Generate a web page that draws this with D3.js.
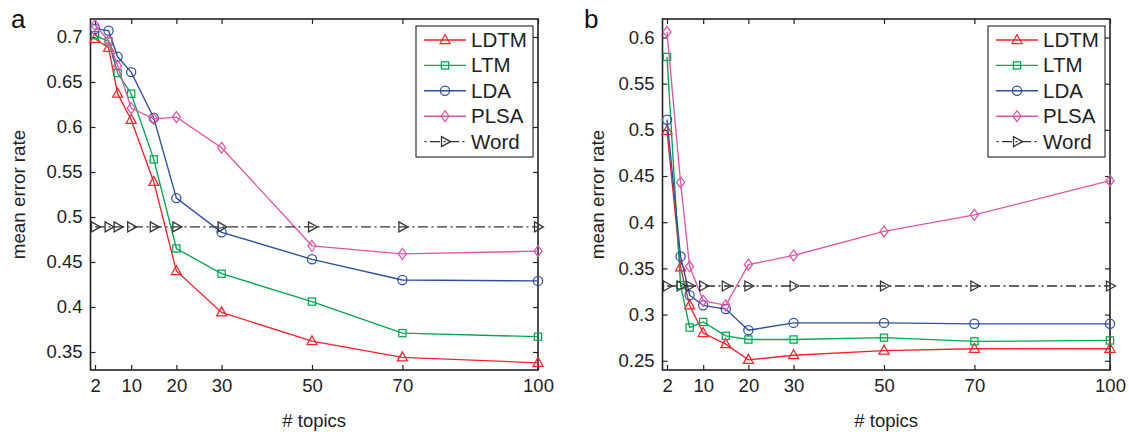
<!DOCTYPE html>
<html><head><meta charset="utf-8">
<script src="https://cdn.jsdelivr.net/npm/d3@7/dist/d3.min.js"></script>
<style>body{margin:0;background:#fff}svg{display:block;font-family:"Liberation Sans",Arial,sans-serif}</style>
</head><body><svg id="c" width="1129" height="432"></svg>
<script>
const topics = [2, 5, 7, 10, 15, 20, 30, 50, 70, 100];
const xTicks = [2, 10, 20, 30, 50, 70, 100];
const seriesNames = ["LDTM", "LTM", "LDA", "PLSA", "Word"];
// Panel a
const aLDTM = [0.698, 0.688, 0.637, 0.608, 0.539, 0.440, 0.394, 0.362, 0.344, 0.338];
const aLTM  = [0.702, 0.695, 0.660, 0.637, 0.564, 0.465, 0.437, 0.406, 0.371, 0.367];
const aLDA  = [0.709, 0.707, 0.678, 0.661, 0.610, 0.521, 0.483, 0.453, 0.430, 0.429];
const aPLSA = [0.713, 0.696, 0.668, 0.621, 0.609, 0.611, 0.577, 0.468, 0.459, 0.462];
const aWord = [0.489, 0.489, 0.489, 0.489, 0.489, 0.489, 0.489, 0.489, 0.489, 0.489];
const aYTicks = [0.35, 0.4, 0.45, 0.5, 0.55, 0.6, 0.65, 0.7];
// Panel b
const bLDTM = [0.499, 0.351, 0.310, 0.280, 0.268, 0.251, 0.256, 0.261, 0.263, 0.263];
const bLTM  = [0.579, 0.332, 0.286, 0.292, 0.277, 0.273, 0.273, 0.275, 0.271, 0.272];
const bLDA  = [0.511, 0.363, 0.321, 0.310, 0.306, 0.283, 0.291, 0.291, 0.290, 0.290];
const bPLSA = [0.606, 0.443, 0.352, 0.315, 0.310, 0.354, 0.364, 0.390, 0.408, 0.445];
const bWord = [0.331, 0.331, 0.331, 0.331, 0.331, 0.331, 0.331, 0.331, 0.331, 0.331];
const bYTicks = [0.25, 0.3, 0.35, 0.4, 0.45, 0.5, 0.55, 0.6];

const colors = {LDTM:"#f5222a", LTM:"#00a651", LDA:"#2e4fa3", PLSA:"#e055a6", Word:"#333333"};
const markers = {LDTM:"tri", LTM:"sq", LDA:"circ", PLSA:"dia", Word:"triR"};

const svg = d3.select("#c");

function drawMarker(g, type, x, y, color){
  let m;
  if(type==="circ") m = g.append("circle").attr("cx",x).attr("cy",y).attr("r",4.6);
  else if(type==="sq") m = g.append("rect").attr("x",x-3.6).attr("y",y-3.6).attr("width",7.2).attr("height",7.2);
  else if(type==="tri") m = g.append("path").attr("d",`M${x},${y-5.5}L${x+5},${y+3.5}L${x-5},${y+3.5}Z`);
  else if(type==="triR") m = g.append("path").attr("d",`M${x+5.5},${y}L${x-3.5},${y+5}L${x-3.5},${y-5}Z`);
  else if(type==="dia") m = g.append("path").attr("d",`M${x},${y-5.5}L${x+4},${y}L${x},${y+5.5}L${x-4},${y}Z`);
  m.attr("fill","none").attr("stroke",color).attr("stroke-width",1.25);
}

function panel(opts){
  const {left,right,top,bottom,yDomain,yTicks,data,letter} = opts;
  const x = d3.scaleLinear().domain([1,100]).range([left,right]);
  const y = d3.scaleLinear().domain(yDomain).range([bottom,top]);
  const g = svg.append("g");
  const tl = 5;
  const fmt = d => String(+d.toFixed(2));
  g.append("g").attr("transform",`translate(0,${bottom})`)
    .call(d3.axisBottom(x).tickValues(xTicks).tickSizeInner(-tl).tickSizeOuter(0).tickPadding(9).tickFormat(d3.format("d")))
    .call(a=>a.select(".domain").remove());
  g.append("g").attr("transform",`translate(0,${top})`)
    .call(d3.axisTop(x).tickValues(xTicks).tickSizeInner(-tl).tickSizeOuter(0).tickFormat(""))
    .call(a=>a.select(".domain").remove());
  g.append("g").attr("transform",`translate(${left},0)`)
    .call(d3.axisLeft(y).tickValues(yTicks).tickSizeInner(-tl).tickSizeOuter(0).tickPadding(8).tickFormat(fmt))
    .call(a=>a.select(".domain").remove());
  g.append("g").attr("transform",`translate(${right},0)`)
    .call(d3.axisRight(y).tickValues(yTicks).tickSizeInner(-tl).tickSizeOuter(0).tickFormat(""))
    .call(a=>a.select(".domain").remove());
  g.selectAll(".tick line").attr("stroke","#222").attr("stroke-width",1.2);
  g.selectAll(".tick text").attr("font-size",18.5).attr("fill","#222").attr("font-family","Liberation Sans, Arial, sans-serif");
  g.append("rect").attr("x",left).attr("y",top).attr("width",right-left).attr("height",bottom-top)
    .attr("fill","none").attr("stroke","#222").attr("stroke-width",1.6);

  const line = d3.line().x((d,i)=>x(topics[i])).y(d=>y(d));
  seriesNames.forEach(name=>{
    const vals = data[name];
    const c = colors[name];
    const p = g.append("path").attr("d",line(vals)).attr("fill","none").attr("stroke",c).attr("stroke-width",1.35);
    if(name==="Word") p.attr("stroke-dasharray","10,3.5,2,3.5").attr("stroke-width",1.4);
    vals.forEach((v,i)=>drawMarker(g, markers[name], x(topics[i]), y(v), c));
  });

  g.append("text").attr("x",(left+right)/2).attr("y",427).attr("text-anchor","middle")
    .attr("font-size",18.5).attr("fill","#222").text("# topics");
  g.append("text").attr("transform",`translate(${opts.ylabX},${(top+bottom)/2}) rotate(-90)`)
    .attr("text-anchor","middle").attr("font-size",18.8).attr("fill","#222").text("mean error rate");
  g.append("text").attr("x",opts.letterX).attr("y",28).attr("font-size",26).attr("fill","#111").text(letter);

  const lw = 117, lh = 131;
  const lx = right-5-lw, ly = top+7;
  const lg = g.append("g");
  lg.append("rect").attr("x",lx).attr("y",ly).attr("width",lw).attr("height",lh)
    .attr("fill","#fff").attr("stroke","#222").attr("stroke-width",1.1);
  seriesNames.forEach((name,i)=>{
    const yy = ly+14+i*25.4;
    const c = colors[name];
    const l = lg.append("line").attr("x1",lx+8).attr("x2",lx+50).attr("y1",yy).attr("y2",yy)
      .attr("stroke",c).attr("stroke-width",1.4);
    if(name==="Word") l.attr("stroke-dasharray","10,3.5,2,3.5").attr("stroke-dashoffset",-6);
    drawMarker(lg, markers[name], lx+29, yy, c);
    lg.append("text").attr("x",lx+55).attr("y",yy+7).attr("font-size",20.5).attr("fill","#222").text(name);
  });
}

panel({left:90.5,right:538,top:19,bottom:370,yDomain:[0.33,0.72],yTicks:aYTicks,
  data:{LDTM:aLDTM,LTM:aLTM,LDA:aLDA,PLSA:aPLSA,Word:aWord},letter:"a",letterX:11,ylabX:25});
panel({left:662.5,right:1110,top:19,bottom:370,yDomain:[0.24,0.62],yTicks:bYTicks,
  data:{LDTM:bLDTM,LTM:bLTM,LDA:bLDA,PLSA:bPLSA,Word:bWord},letter:"b",letterX:584,ylabX:604});
</script></body></html>
